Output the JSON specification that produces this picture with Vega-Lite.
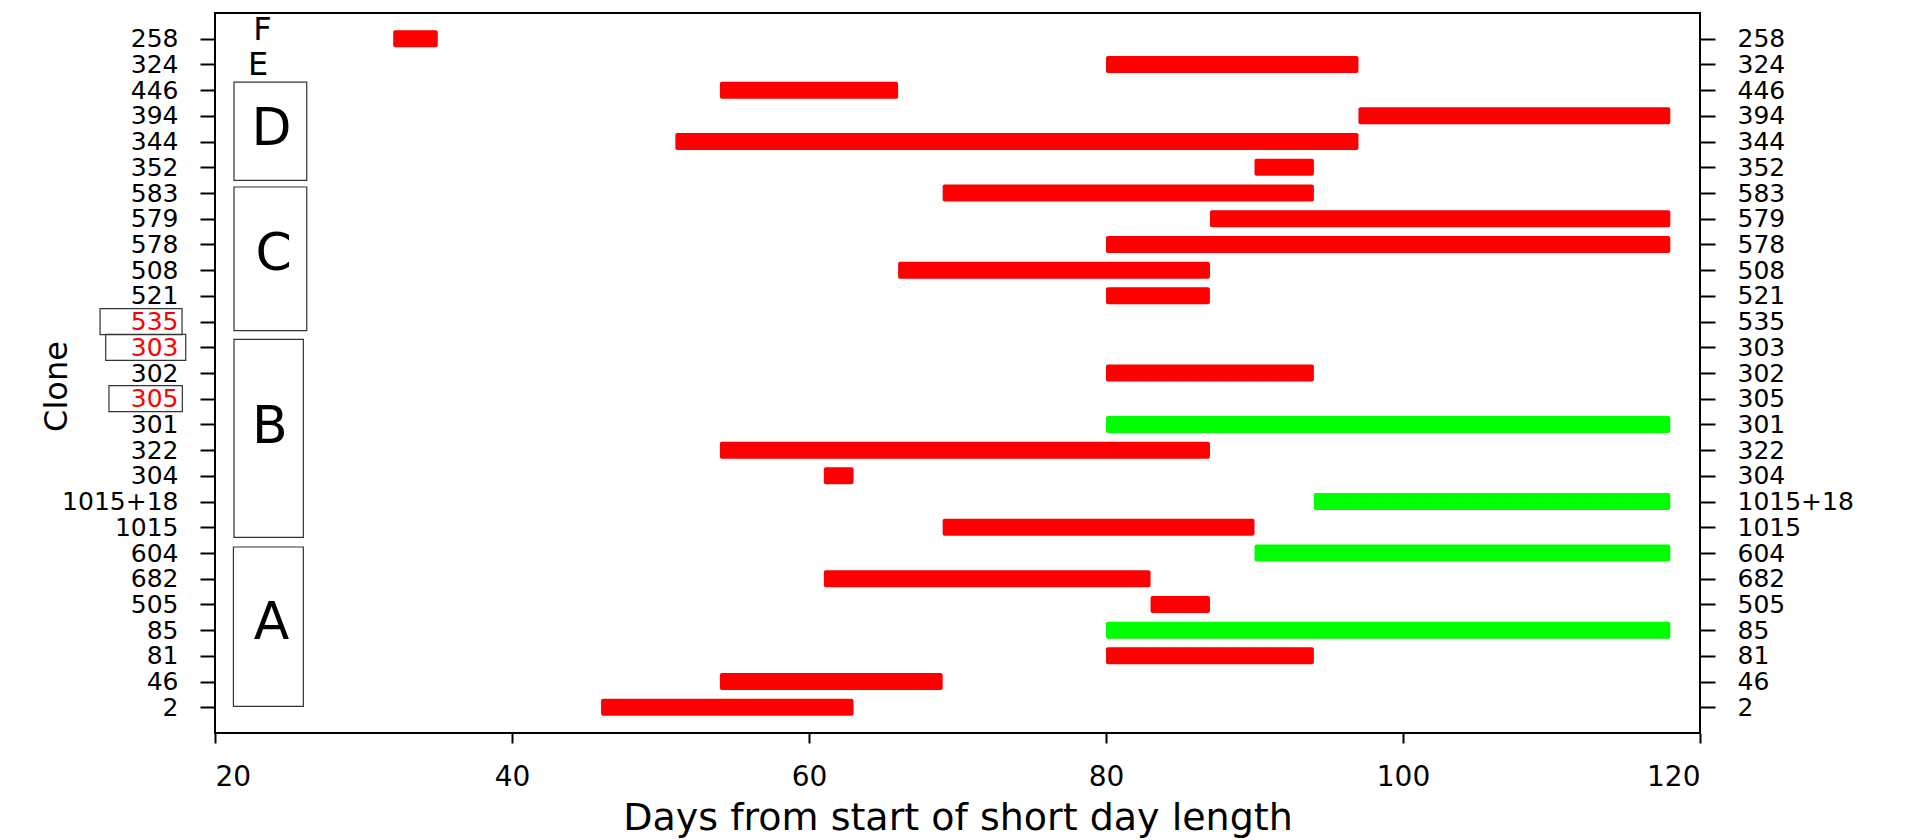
{
  "$schema": "https://vega.github.io/schema/vega-lite/v6.json",
  "autosize": {"type": "none"},
  "width": 1485,
  "height": 720,
  "padding": {"left": 215, "top": 13, "right": 206, "bottom": 107},
  "background": "white",
  "config": {
    "view": {"stroke": "black", "strokeWidth": 2},
    "axis": {"labelFont": "DejaVu Sans", "titleFont": "DejaVu Sans", "labelColor": "black", "titleColor": "black", "tickColor": "black", "tickWidth": 2, "domain": false, "grid": false, "titleFontWeight": "normal"},
    "text": {"font": "DejaVu Sans", "color": "black"}
  },
  "datasets": {
    "clones": [
      {"clone": "258", "start": 32, "end": 35, "status": "ended"},
      {"clone": "324", "start": 80, "end": 97, "status": "ended"},
      {"clone": "446", "start": 54, "end": 66, "status": "ended"},
      {"clone": "394", "start": 97, "end": 118, "status": "ended"},
      {"clone": "344", "start": 51, "end": 97, "status": "ended"},
      {"clone": "352", "start": 90, "end": 94, "status": "ended"},
      {"clone": "583", "start": 69, "end": 94, "status": "ended"},
      {"clone": "579", "start": 87, "end": 118, "status": "ended"},
      {"clone": "578", "start": 80, "end": 118, "status": "ended"},
      {"clone": "508", "start": 66, "end": 87, "status": "ended"},
      {"clone": "521", "start": 80, "end": 87, "status": "ended"},
      {"clone": "302", "start": 80, "end": 94, "status": "ended"},
      {"clone": "301", "start": 80, "end": 118, "status": "ongoing"},
      {"clone": "322", "start": 54, "end": 87, "status": "ended"},
      {"clone": "304", "start": 61, "end": 63, "status": "ended"},
      {"clone": "1015+18", "start": 94, "end": 118, "status": "ongoing"},
      {"clone": "1015", "start": 69, "end": 90, "status": "ended"},
      {"clone": "604", "start": 90, "end": 118, "status": "ongoing"},
      {"clone": "682", "start": 61, "end": 83, "status": "ended"},
      {"clone": "505", "start": 83, "end": 87, "status": "ended"},
      {"clone": "85", "start": 80, "end": 118, "status": "ongoing"},
      {"clone": "81", "start": 80, "end": 94, "status": "ended"},
      {"clone": "46", "start": 54, "end": 69, "status": "ended"},
      {"clone": "2", "start": 46, "end": 63, "status": "ended"}
    ],
    "flagged": [
      {"clone": "535", "xs": 12.26, "xe": 17.78},
      {"clone": "303", "xs": 12.64, "xe": 18.03},
      {"clone": "305", "xs": 12.86, "xe": 17.8}
    ]
  },
  "resolve": {"axis": {"y": "independent", "x": "shared"}},
  "layer": [
    {
      "data": {"name": "clones"},
      "mark": {"type": "bar", "height": 17, "cornerRadius": 2},
      "encoding": {
        "y": {
          "field": "clone", "type": "nominal",
          "scale": {"type": "point", "padding": 1, "domain": ["258","324","446","394","344","352","583","579","578","508","521","535","303","302","305","301","322","304","1015+18","1015","604","682","505","85","81","46","2"]},
          "axis": {
            "orient": "left", "title": "Clone", "titleFontSize": 32, "titleAngle": -90,
            "titleX": -149, "titleY": 373, "titleAlign": "center", "titleBaseline": "alphabetic",
            "labelFontSize": 25, "tickSize": 15, "labelPadding": 22,
            "labelColor": {"condition": {"test": "indexof(['535','303','305'], datum.value) >= 0", "value": "#FF0000"}, "value": "black"}
          }
        },
        "x": {
          "field": "start", "type": "quantitative",
          "scale": {"domain": [20, 120], "nice": false, "zero": false},
          "axis": {"orient": "bottom", "values": [20, 40, 60, 80, 100, 120], "title": "Days from start of short day length", "titleFontSize": 38, "labelFontSize": 28, "tickSize": 10, "labelPadding": 20, "titleY": 96, "titleBaseline": "alphabetic"}
        },
        "x2": {"field": "end"},
        "color": {"field": "status", "type": "nominal", "scale": {"domain": ["ended", "ongoing"], "range": ["#FF0000", "#00FF00"]}, "legend": null}
      }
    },
    {
      "data": {"name": "flagged"},
      "mark": {"type": "bar", "height": 26, "fill": "transparent", "stroke": "#333333", "strokeWidth": 1.2, "clip": false},
      "encoding": {
        "y": {"field": "clone", "type": "nominal", "axis": {"orient": "right", "title": null, "labelFontSize": 25, "tickSize": 15, "labelPadding": 22, "labelColor": "black"}},
        "x": {"field": "xs", "type": "quantitative"},
        "x2": {"field": "xe"}
      }
    },
    {
      "data": {"values": [{"group": "D", "top": "446", "bottom": "352", "xs": 21.28, "xe": 26.18}]},
      "mark": {"type": "rect", "fill": "transparent", "stroke": "#333333", "strokeWidth": 1.2, "yOffset": -8, "y2Offset": 13},
      "encoding": {
        "y": {"field": "top", "type": "nominal", "axis": null},
        "y2": {"field": "bottom"},
        "x": {"field": "xs", "type": "quantitative"},
        "x2": {"field": "xe"}
      }
    },
    {
      "data": {"values": [{"group": "C", "top": "583", "bottom": "535", "xs": 21.28, "xe": 26.18}]},
      "mark": {"type": "rect", "fill": "transparent", "stroke": "#333333", "strokeWidth": 1.2, "yOffset": -6, "y2Offset": 9},
      "encoding": {
        "y": {"field": "top", "type": "nominal", "axis": null},
        "y2": {"field": "bottom"},
        "x": {"field": "xs", "type": "quantitative"},
        "x2": {"field": "xe"}
      }
    },
    {
      "data": {"values": [{"group": "B", "top": "303", "bottom": "1015", "xs": 21.28, "xe": 25.95}]},
      "mark": {"type": "rect", "fill": "transparent", "stroke": "#333333", "strokeWidth": 1.2, "yOffset": -8, "y2Offset": 10},
      "encoding": {
        "y": {"field": "top", "type": "nominal", "axis": null},
        "y2": {"field": "bottom"},
        "x": {"field": "xs", "type": "quantitative"},
        "x2": {"field": "xe"}
      }
    },
    {
      "data": {"values": [{"group": "A", "top": "604", "bottom": "2", "xs": 21.24, "xe": 25.95}]},
      "mark": {"type": "rect", "fill": "transparent", "stroke": "#333333", "strokeWidth": 1.2, "yOffset": -6, "y2Offset": -1},
      "encoding": {
        "y": {"field": "top", "type": "nominal", "axis": null},
        "y2": {"field": "bottom"},
        "x": {"field": "xs", "type": "quantitative"},
        "x2": {"field": "xe"}
      }
    },
    {
      "data": {"values": [{"label": "F", "clone": "258", "x": 23.2}]},
      "mark": {"type": "text", "fontSize": 32, "align": "center", "baseline": "middle", "dy": -9},
      "encoding": {"y": {"field": "clone", "type": "nominal", "axis": null}, "x": {"field": "x", "type": "quantitative"}, "text": {"field": "label"}}
    },
    {
      "data": {"values": [{"label": "E", "clone": "324", "x": 22.9}]},
      "mark": {"type": "text", "fontSize": 32, "align": "center", "baseline": "middle", "dy": 1},
      "encoding": {"y": {"field": "clone", "type": "nominal", "axis": null}, "x": {"field": "x", "type": "quantitative"}, "text": {"field": "label"}}
    },
    {
      "data": {"values": [{"label": "D", "clone": "394", "x": 23.8}]},
      "mark": {"type": "text", "fontSize": 52, "align": "center", "baseline": "middle", "dy": 13},
      "encoding": {"y": {"field": "clone", "type": "nominal", "axis": null}, "x": {"field": "x", "type": "quantitative"}, "text": {"field": "label"}}
    },
    {
      "data": {"values": [{"label": "C", "clone": "578", "x": 23.95}]},
      "mark": {"type": "text", "fontSize": 52, "align": "center", "baseline": "middle", "dy": 10},
      "encoding": {"y": {"field": "clone", "type": "nominal", "axis": null}, "x": {"field": "x", "type": "quantitative"}, "text": {"field": "label"}}
    },
    {
      "data": {"values": [{"label": "B", "clone": "301", "x": 23.7}]},
      "mark": {"type": "text", "fontSize": 52, "align": "center", "baseline": "middle", "dy": 3},
      "encoding": {"y": {"field": "clone", "type": "nominal", "axis": null}, "x": {"field": "x", "type": "quantitative"}, "text": {"field": "label"}}
    },
    {
      "data": {"values": [{"label": "A", "clone": "85", "x": 23.8}]},
      "mark": {"type": "text", "fontSize": 52, "align": "center", "baseline": "middle", "dy": -7},
      "encoding": {"y": {"field": "clone", "type": "nominal", "axis": null}, "x": {"field": "x", "type": "quantitative"}, "text": {"field": "label"}}
    }
  ]
}
